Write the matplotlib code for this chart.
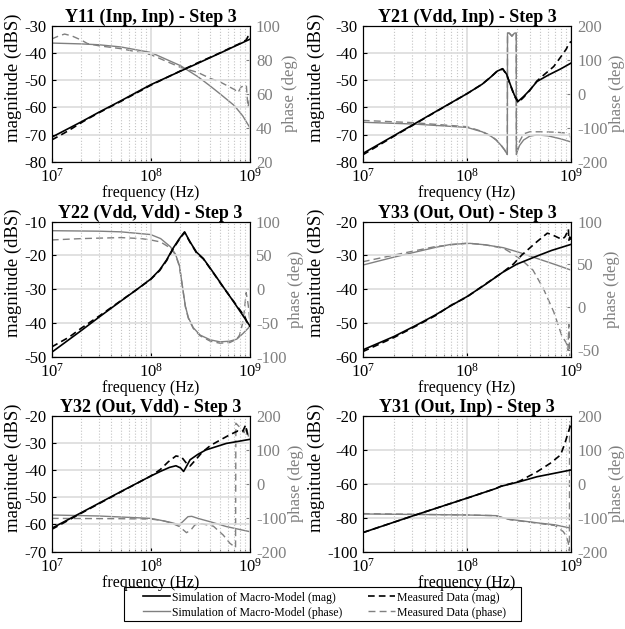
import numpy as np
import matplotlib.pyplot as plt
from matplotlib.ticker import LogLocator, NullFormatter, FixedLocator
from matplotlib.lines import Line2D
from matplotlib.patches import Rectangle

plt.rcParams.update({'font.family': 'Liberation Serif', 'mathtext.fontset': 'stix',
                     'axes.unicode_minus': False, 'font.size': 12})

GRAY = '#808080'

# ---- Y11 (Inp, Inp)
f11_sim = [1e7, 2e7, 3e7, 5e7, 1e8, 2e8, 3e8, 4e8, 5e8, 7e8, 8.5e8, 1e9]
mag11_sim = [-71.0, -65.3, -61.8, -57.6, -51.7, -46.7, -43.8, -41.7, -40.1, -37.6, -36.2, -35.0]
ph11_sim = [89.8, 89.3, 88.8, 87.5, 84.3, 76.5, 70.0, 64.5, 60.0, 53.0, 47.0, 40.2]
f11_meas = [1e7, 1.15e7, 1.35e7, 1.6e7, 2e7, 2.3e7, 3e7, 5e7, 1e8, 2e8, 3e8, 4e8, 5e8,
            5.8e8, 7.05e8, 7.6e8, 8.2e8, 9.25e8, 9.6e8, 1e9]
mag11_meas = [-72.0, -70.8, -69.4, -67.8, -65.6, -64.3, -62.0, -57.8, -51.9, -46.6, -43.6, -41.6,
              -40.0, -38.9, -37.4, -36.9, -36.3, -35.2, -34.0, -33.6]
ph11_meas = [92.2, 93.7, 95.1, 94.0, 91.5, 89.5, 88.2, 86.5, 83.0, 75.5, 72.5, 69.0, 67.0,
             65.0, 62.4, 60.6, 64.0, 65.0, 52.0, 57.0]

# ---- Y21 (Vdd, Inp)
f21_mag = [1e7, 2e7, 5e7, 1e8, 1.4e8, 1.7e8, 1.95e8, 2.2e8, 2.4e8, 2.6e8, 2.85e8, 3.1e8,
           3.5e8, 4e8, 4.7e8, 6e8, 8e8, 1e9]
mag21_sim = [-77.0, -70.4, -61.6, -55.0, -51.5, -48.8, -46.7, -45.8, -47.8, -51.5, -55.5, -57.8,
             -56.0, -53.7, -50.5, -48.2, -45.8, -43.7]
f21_meas = [1e7, 2e7, 5e7, 1e8, 1.4e8, 1.7e8, 1.95e8, 2.2e8, 2.4e8, 2.6e8, 2.85e8, 3.1e8,
            3.5e8, 4e8, 4.7e8, 5.5e8, 6.8e8, 8e8, 9e8, 9.5e8, 1e9]
mag21_meas = [-77.5, -70.6, -61.7, -55.0, -51.5, -48.8, -46.7, -45.9, -47.9, -51.7, -55.8, -58.3,
              -56.3, -53.8, -50.3, -48.0, -45.0, -41.3, -38.5, -36.5, -35.8]
f21_ph_sim = [1e7, 3e7, 1e8, 1.4e8, 1.7e8, 1.9e8, 2.1e8, 2.3e8, 2.4e8, 2.44e8, 2.45e8, 2.55e8,
              2.7e8, 2.85e8, 2.97e8, 2.98e8, 3.05e8, 3.2e8, 3.5e8, 4e8, 4.7e8, 6e8, 8e8, 1e9]
ph21_sim = [-84, -89, -99, -112, -125, -136, -150, -166, -175, -179, 179, 178,
            169, 178, 179, -179, -168, -152, -136, -125, -121, -124, -133, -142]
f21_ph_meas = [1e7, 3e7, 1e8, 1.4e8, 1.7e8, 1.9e8, 2.1e8, 2.3e8, 2.4e8, 2.44e8, 2.45e8, 2.55e8,
               2.7e8, 2.85e8, 2.97e8, 2.98e8, 3.05e8, 3.2e8, 3.5e8, 4e8, 5e8, 7e8, 8.5e8,
               9.5e8, 9.8e8, 1e9]
ph21_meas = [-78.5, -85, -97, -111, -124, -135, -149, -165, -175, -179, 179, 178,
             170, 178, 179, -179, -165, -140, -118, -112, -112, -113, -115, -117, -125, -137]

# ---- Y22 (Vdd, Vdd)
f22_mag = [1e7, 2e7, 3e7, 5e7, 7e7, 1e8, 1.23e8, 1.45e8, 1.68e8, 1.95e8, 2.2e8, 2.5e8, 2.9e8,
           3.4e8, 4.3e8, 5.4e8, 6.8e8, 8.5e8, 1e9]
mag22_sim = [-48.7, -42.2, -38.3, -33.5, -30.4, -27.0, -24.3, -21.3, -17.9, -15.0, -13.0, -16.0,
             -19.0, -20.9, -25.1, -29.3, -33.5, -37.7, -40.8]
f22_meas = [1e7, 1.5e7, 2e7, 3e7, 5e7, 7e7, 1e8, 1.23e8, 1.45e8, 1.68e8, 1.95e8, 2.2e8, 2.5e8,
            2.9e8, 3.4e8, 4.3e8, 5.4e8, 6.8e8, 8.5e8, 8.9e8, 9.3e8, 1e9]
mag22_meas = [-47.1, -44.2, -41.5, -38.0, -33.4, -30.4, -27.1, -24.5, -21.5, -18.1, -15.2, -13.2,
              -16.1, -19.2, -21.0, -25.2, -29.4, -33.4, -37.3, -38.0, -39.5, -41.2]
f22_ph_sim = [1e7, 3e7, 5e7, 1e8, 1.26e8, 1.58e8, 1.78e8, 1.95e8, 2.09e8, 2.24e8, 2.4e8, 2.69e8,
              3.16e8, 4e8, 5e8, 6.3e8, 7.4e8, 8.5e8, 1e9]
ph22_sim = [86.7, 86.0, 85.0, 81.0, 75.0, 63.0, 52.0, 35.0, 5.0, -25.0, -42.0, -57.0,
            -68.0, -75.0, -78.0, -77.0, -74.0, -66.0, -55.5]
f22_ph_meas = [1e7, 2e7, 5e7, 8e7, 1e8, 1.26e8, 1.58e8, 1.78e8, 1.95e8, 2.09e8, 2.24e8, 2.4e8,
               2.69e8, 3.16e8, 4e8, 5e8, 6.3e8, 7.4e8, 7.9e8, 8.5e8, 8.9e8, 9.2e8, 9.5e8, 9.7e8, 1e9]
ph22_meas = [73.0, 75.0, 76.5, 75.0, 73.0, 70.0, 61.0, 51.0, 34.0, 4.0, -26.0, -43.0,
             -58.0, -69.0, -77.0, -80.0, -79.0, -74.0, -68.0, -50.0, -28.0, -5.0, -16.0, -25.0, -45.0]

# ---- Y33 (Out, Out)
f33_mag = [1e7, 2e7, 3.3e7, 5e7, 7e7, 1e8, 1.5e8, 2.2e8, 3e8, 4.5e8, 6.5e8, 1e9]
mag33_sim = [-58.0, -54.0, -50.6, -47.6, -44.9, -42.2, -38.6, -35.0, -32.6, -30.4, -28.5, -26.7]
f33_meas = [1e7, 2e7, 3.3e7, 5e7, 7e7, 1e8, 1.5e8, 2.2e8, 2.8e8, 3.35e8, 4.7e8, 5.9e8, 6.5e8,
            7.6e8, 8.2e8, 8.7e8, 9.2e8, 9.4e8, 9.5e8, 9.7e8, 1e9]
mag33_meas = [-58.5, -54.3, -50.8, -47.8, -44.8, -42.3, -38.5, -35.0, -32.5, -29.9, -25.9, -23.4,
              -23.8, -24.8, -25.2, -24.5, -23.0, -22.2, -25.5, -24.5, -26.5]
f33_ph_sim = [1e7, 1.95e7, 3.3e7, 5e7, 7e7, 1.07e8, 1.5e8, 2.24e8, 3.2e8, 4.7e8, 7e8, 1e9]
ph33_sim = [49.3, 58.3, 64.9, 70.0, 73.5, 74.7, 73.0, 69.6, 64.0, 57.1, 50.0, 43.4]
f33_ph_meas = [1e7, 2e7, 3.3e7, 5e7, 1e8, 1.5e8, 2.24e8, 2.8e8, 3.5e8, 4.3e8, 5.4e8, 6.8e8,
               8.1e8, 9.0e8, 9.3e8, 9.5e8, 9.7e8, 1e9]
ph33_meas = [53.2, 61.0, 66.5, 71.0, 75.0, 73.0, 69.0, 62.0, 53.2, 43.4, 22.0, -5.4,
             -32.7, -42.0, -50.0, -20.0, -57.0, -55.0]

# ---- Y32 (Out, Vdd)
f32_mag = [1e7, 2e7, 5e7, 1e8, 1.25e8, 1.55e8, 1.8e8, 2e8, 2.15e8, 2.3e8, 2.5e8, 3e8, 3.6e8,
           5.8e8, 1e9]
mag32_sim = [-61.4, -55.6, -47.9, -42.2, -40.5, -39.0, -38.4, -39.2, -40.5, -38.6, -36.2, -34.2,
             -32.6, -30.2, -28.7]
f32_meas = [1e7, 2e7, 5e7, 1e8, 1.25e8, 1.5e8, 1.8e8, 2.05e8, 2.3e8, 2.5e8, 2.8e8, 3.3e8, 4e8,
            5e8, 6.3e8, 7.6e8, 8.5e8, 9.1e8, 9.5e8, 1e9]
mag32_meas = [-61.8, -55.8, -48.0, -42.2, -39.8, -37.0, -34.8, -35.2, -37.5, -38.5, -36.5, -33.5,
              -31.0, -29.0, -27.0, -25.6, -25.8, -23.4, -27.0, -28.0]
f32_ph_sim = [1e7, 3e7, 1e8, 1.23e8, 1.6e8, 1.95e8, 2.38e8, 2.6e8, 3e8, 4e8, 5.8e8, 1e9]
ph32_sim = [-92, -95, -102, -107, -114, -121, -97, -96, -102, -112, -126, -141]
f32_ph_meas = [1e7, 5e7, 1e8, 1.3e8, 1.6e8, 1.95e8, 2.3e8, 2.55e8, 2.8e8, 3.3e8, 4.3e8, 5.4e8,
               6.3e8, 7.2e8, 7.25e8, 8e8, 8.8e8, 9.3e8, 9.7e8, 1e9]
ph32_meas = [-102, -103, -104, -108, -115, -126, -144, -136, -121, -118, -125, -151,
             -175, -188, 178, 165, 150, 165, 140, 145]

# ---- Y31 (Out, Inp)
f31_mag = [1e7, 3e7, 1e8, 1.5e8, 1.9e8, 2.1e8, 3.2e8, 4.7e8, 7e8, 1e9]
mag31_sim = [-88.8, -79.0, -68.5, -64.9, -62.8, -61.6, -58.8, -55.9, -53.8, -51.9]
f31_meas = [1e7, 3e7, 1e8, 1.5e8, 1.9e8, 2.1e8, 3.2e8, 4.7e8, 6.3e8, 7.9e8, 8.7e8, 9.3e8,
            9.7e8, 1e9]
mag31_meas = [-88.8, -79.0, -68.5, -64.9, -62.8, -61.6, -58.5, -53.0, -48.0, -43.1, -36.3, -30.4,
              -27.0, -24.0]
f31_ph_sim = [1e7, 1e8, 1.9e8, 2.2e8, 2.6e8, 4.7e8, 7e8, 1e9]
ph31_sim = [-89, -92, -94, -100, -105, -115, -121, -131]
f31_ph_meas = [1e7, 1e8, 1.9e8, 2.2e8, 2.6e8, 4.7e8, 7e8, 8.4e8, 9e8, 9.4e8, 9.62e8, 9.65e8, 1e9]
ph31_meas = [-88, -92, -94, -100, -106, -116, -123, -141, -155, -175, -199, 185, 175]

fig = plt.figure(figsize=(6.25, 6.29), dpi=100)

col_l = [0.0827, 0.5803]
col_w = [0.3168, 0.3336]
col_lab = [-0.152, -0.183]
row_b = [0.7429, 0.4329, 0.1229]
row_h = [0.2162, 0.2146, 0.2162]


def panel(r, c, title, f_ms, m_s, f_mm, m_m, f_ps, p_s, f_pm, p_m, mlim, mstep, plim, pticks):
    ax = fig.add_axes([col_l[c], row_b[r], col_w[c], row_h[r]])
    ax2 = ax.twinx()
    ax2.plot(f_ps, p_s, color=GRAY, lw=1.0)
    ax2.plot(f_pm, p_m, color=GRAY, lw=1.0, ls='--', dashes=(5, 3))
    ax.plot(f_ms, m_s, color='k', lw=1.2)
    ax.plot(f_mm, m_m, color='k', lw=1.2, ls='--', dashes=(4, 2.5))
    ax.set_zorder(ax2.get_zorder() + 1)
    ax.patch.set_visible(False)

    ax.set_xscale('log')
    ax.set_xlim(1e7, 1e9)
    ax.xaxis.set_major_locator(LogLocator(base=10, numticks=5))
    ax.xaxis.set_minor_locator(LogLocator(base=10, subs=np.arange(2, 10), numticks=20))
    ax.xaxis.set_minor_formatter(NullFormatter())
    ax.set_ylim(*mlim)
    ax.yaxis.set_major_locator(FixedLocator(np.arange(mlim[0], mlim[1] + 1, mstep)))
    ax2.set_ylim(*plim)
    ax2.yaxis.set_major_locator(FixedLocator(pticks))

    ax.grid(which='major', color='#dcdcdc', lw=1.2)
    ax.grid(which='minor', axis='x', color='#c4c4c4', lw=0.8, ls=':')
    ax.tick_params(which='both', direction='in', labelsize=12, width=0.8)
    ax.tick_params(which='major', length=3)
    ax.tick_params(which='minor', length=1.5)
    ax.tick_params(axis='x', which='major', pad=4.5)
    ax.tick_params(axis='y', which='major', pad=3.5)
    ax2.tick_params(direction='in', length=3, colors=GRAY, labelsize=12, pad=4.5)
    ax2.spines['right'].set_color(GRAY)
    for s in ['left', 'bottom', 'top']:
        ax.spines[s].set_linewidth(0.8)
    ax.set_title(title, fontweight='bold', fontsize=13, pad=3)
    ax.set_xlabel('frequency (Hz)', fontsize=11.5, labelpad=-0.5)
    ax.set_ylabel('magnitude (dBS)', fontsize=13.5)
    ax.yaxis.set_label_coords(col_lab[c], 0.62)
    ax2.set_ylabel('phase (deg)', fontsize=12, color=GRAY, labelpad=1)


panel(0, 0, 'Y11 (Inp, Inp) - Step 3', f11_sim, mag11_sim, f11_meas, mag11_meas,
      f11_sim, ph11_sim, f11_meas, ph11_meas, (-80, -30), 10, (20, 100), [20, 40, 60, 80, 100])
panel(0, 1, 'Y21 (Vdd, Inp) - Step 3', f21_mag, mag21_sim, f21_meas, mag21_meas,
      f21_ph_sim, ph21_sim, f21_ph_meas, ph21_meas, (-80, -30), 10, (-200, 200), [-200, -100, 0, 100, 200])
panel(1, 0, 'Y22 (Vdd, Vdd) - Step 3', f22_mag, mag22_sim, f22_meas, mag22_meas,
      f22_ph_sim, ph22_sim, f22_ph_meas, ph22_meas, (-50, -10), 10, (-100, 100), [-100, -50, 0, 50, 100])
panel(1, 1, 'Y33 (Out, Out) - Step 3', f33_mag, mag33_sim, f33_meas, mag33_meas,
      f33_ph_sim, ph33_sim, f33_ph_meas, ph33_meas, (-60, -20), 10, (-57.8, 100), [-50, 0, 50, 100])
panel(2, 0, 'Y32 (Out, Vdd) - Step 3', f32_mag, mag32_sim, f32_meas, mag32_meas,
      f32_ph_sim, ph32_sim, f32_ph_meas, ph32_meas, (-70, -20), 10, (-200, 200), [-200, -100, 0, 100, 200])
panel(2, 1, 'Y31 (Out, Inp) - Step 3', f31_mag, mag31_sim, f31_meas, mag31_meas,
      f31_ph_sim, ph31_sim, f31_ph_meas, ph31_meas, (-100, -20), 20, (-200, 200), [-200, -100, 0, 100, 200])

handles = [Line2D([], [], color='k', lw=1.2),
           Line2D([], [], color=GRAY, lw=1.0),
           Line2D([], [], color='k', lw=1.2, ls='--', dashes=(4, 2.5)),
           Line2D([], [], color=GRAY, lw=1.0, ls='--', dashes=(5, 3))]
labels = ['Simulation of Macro-Model (mag)', 'Simulation of Macro-Model (phase)',
          'Measured Data (mag)', 'Measured Data (phase)']
leg = fig.legend(handles, labels, ncol=2, loc='center', bbox_to_anchor=(0.519, 0.038),
                 fontsize=8.5, frameon=False, handlelength=2.3, handletextpad=0.15,
                 columnspacing=2.2, borderpad=0, labelspacing=0.25, borderaxespad=0)
# legend box drawn a little wider than the entries, as in the original
fig.patches.append(Rectangle((0.198, 0.0127), 0.635, 0.054, transform=fig.transFigure,
                             fill=False, edgecolor='k', lw=0.8))

fig.savefig('out.png', dpi=100)
